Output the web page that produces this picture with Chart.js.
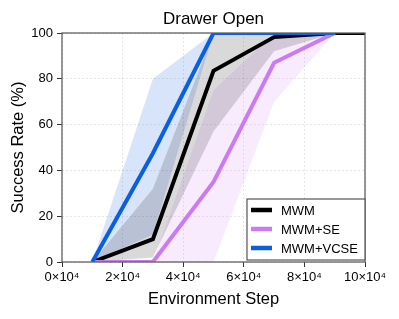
<!DOCTYPE html>
<html>
<head>
<meta charset="utf-8">
<script src="https://cdn.jsdelivr.net/npm/chart.js@4.4.0/dist/chart.umd.min.js"></script>
<style>
  html, body { margin: 0; padding: 0; background: #fff; }
  #wrap { width: 399px; height: 319px; }
</style>
</head>
<body>
<div id="wrap"><canvas id="drawer-chart" width="399" height="319"></canvas></div>
<script>
// Environment steps (x) and success rates (%)
const steps = [10000, 30000, 50000, 70000, 90000, 100000];

const mwm = [0, 10, 83.5, 98.2, 100, 100];
const mwmLow = [0, 2, 57, 92, 100, 100];
const mwmHigh = [0, 32, 100, 100, 100, 100];

const mwmSe = [0, 0, 35, 87, 100];
const mwmSeLow = [0, 0, 0, 70, 100];
const mwmSeHigh = [0, 0, 75, 100, 100];

const mwmVcse = [0, 47.5, 100, 100, 100];
const mwmVcseLow = [0, 12, 100, 100, 100];
const mwmVcseHigh = [0, 80, 100, 100, 100];

const xTicks = [0, 20000, 40000, 60000, 80000, 100000];
const yTicks = [0, 20, 40, 60, 80, 100];

const chartTitle = "Drawer Open";

const FONT = "'Liberation Sans', Arial, Helvetica, sans-serif";

const series = [
    { label: "MWM", mean: mwm, low: mwmLow, high: mwmHigh, color: "#000000", band: "rgba(0,0,0,0.15)" },
    { label: "MWM+SE", mean: mwmSe, low: mwmSeLow, high: mwmSeHigh, color: "#cc7af0", band: "rgba(204,122,240,0.15)" },
    { label: "MWM+VCSE", mean: mwmVcse, low: mwmVcseLow, high: mwmVcseHigh, color: "#0a5fe0", band: "rgba(10,90,220,0.16)" },
];

const toPoints = (vals) => vals.map((v, i) => ({ x: steps[i], y: v }));

// Lines first (drawn on top), then low/high pairs for the shaded bands
const datasets = [];
series.forEach((s, i) => {
    datasets.push({
        label: s.label,
        data: toPoints(s.mean),
        borderColor: s.color,
        borderWidth: 4,
        pointRadius: 0,
        fill: false,
        tension: 0,
        order: 3 - i,
    });
});
series.forEach((s) => {
    datasets.push({
        label: s.label + " low",
        data: toPoints(s.low),
        borderWidth: 0,
        pointRadius: 0,
        fill: false,
        order: 10,
    });
    datasets.push({
        label: s.label + " high",
        data: toPoints(s.high),
        borderWidth: 0,
        pointRadius: 0,
        backgroundColor: s.band,
        fill: "-1",
        order: 10,
    });
});

// Frame around the plot area + title centred over it
const framePlugin = {
    id: "frame",
    afterDatasetsDraw(chart) {
        const { ctx, chartArea: a } = chart;
        ctx.save();
        ctx.strokeStyle = "#606060";
        ctx.lineWidth = 1.3;
        ctx.strokeRect(a.left, a.top, a.right - a.left, a.bottom - a.top);
        ctx.fillStyle = "#000";
        ctx.font = "17px " + FONT;
        ctx.textAlign = "center";
        ctx.textBaseline = "middle";
        ctx.fillText(chartTitle, (a.left + a.right) / 2, a.top - 14);
        ctx.restore();
    },
};

// Legend box in the lower right corner of the plot
const legendPlugin = {
    id: "boxLegend",
    afterDraw(chart) {
        const { ctx, chartArea: a } = chart;
        const w = 118, h = 61;
        const x = a.right - w, y = a.bottom - h - 2;
        ctx.save();
        ctx.fillStyle = "#ffffff";
        ctx.fillRect(x, y, w, h);
        ctx.strokeStyle = "#555555";
        ctx.lineWidth = 1.2;
        ctx.strokeRect(x, y, w, h);
        ctx.font = "13px " + FONT;
        ctx.textBaseline = "middle";
        series.forEach((s, i) => {
            const cy = y + 11 + i * 19;
            ctx.strokeStyle = s.color;
            ctx.lineWidth = 4.5;
            ctx.beginPath();
            ctx.moveTo(x + 4, cy);
            ctx.lineTo(x + 25, cy);
            ctx.stroke();
            ctx.fillStyle = "#000";
            ctx.fillText(s.label, x + 34, cy + 1);
        });
        ctx.restore();
    },
};

const gridStyle = {
    color: "rgba(0,0,0,0.12)",
    lineWidth: 0.8,
    tickColor: "#333",
    tickLength: 5,
    tickWidth: 1,
    tickBorderDash: [],
};

new Chart(document.getElementById("drawer-chart").getContext("2d"), {
    type: "line",
    data: { datasets },
    options: {
        responsive: false,
        animation: false,
        layout: { padding: { left: 0, right: 34, top: 33, bottom: 0 } },
        plugins: {
            legend: { display: false },
            tooltip: { enabled: false },
            title: { display: false },
        },
        scales: {
            x: {
                type: "linear",
                min: 0,
                max: 100000,
                afterBuildTicks: (scale) => { scale.ticks = xTicks.map((v) => ({ value: v })); },
                afterFit: (scale) => { scale.height = 57; scale.paddingLeft = 0; scale.paddingRight = 0; },
                grid: Object.assign({ borderDash: [2, 2] }, gridStyle),
                border: { display: false, dash: [2, 2] },
                ticks: {
                    color: "#000",
                    padding: 3,
                    maxRotation: 0,
                    font: { family: FONT, size: 13 },
                    callback: (v) => (v / 10000) + "×10⁴",
                },
                title: {
                    display: true,
                    text: "Environment Step",
                    color: "#000",
                    font: { family: FONT, size: 16.5 },
                    padding: { top: 0, bottom: 10 },
                },
            },
            y: {
                min: 0,
                max: 100,
                afterBuildTicks: (scale) => { scale.ticks = yTicks.map((v) => ({ value: v })); },
                afterFit: (scale) => { scale.width = 62; scale.paddingTop = 0; scale.paddingBottom = 0; },
                grid: Object.assign({ borderDash: [2, 2] }, gridStyle),
                border: { display: false, dash: [2, 2] },
                ticks: {
                    color: "#000",
                    padding: 4,
                    font: { family: FONT, size: 13 },
                },
                title: {
                    display: true,
                    text: "Success Rate (%)",
                    color: "#000",
                    font: { family: FONT, size: 16.5 },
                    padding: { top: 9, bottom: 0 },
                },
            },
        },
    },
    plugins: [framePlugin, legendPlugin],
});
</script>
</body>
</html>
